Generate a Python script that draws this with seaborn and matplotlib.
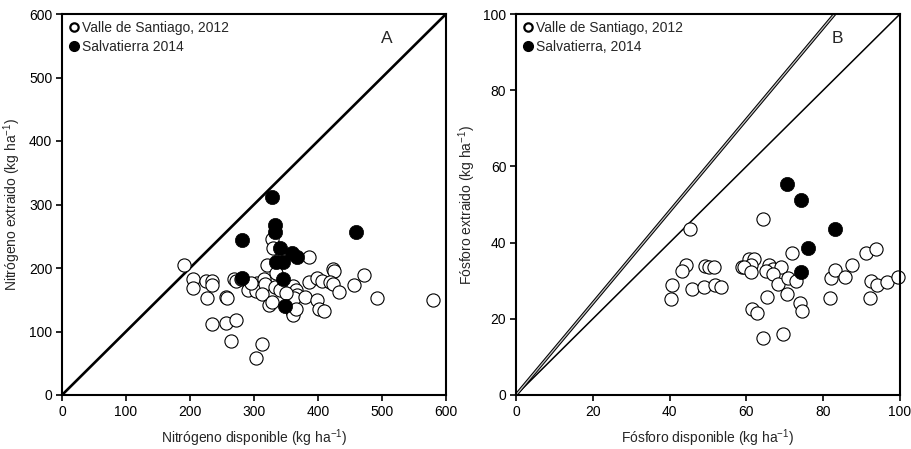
import matplotlib
matplotlib.use("Agg")
import matplotlib.pyplot as plt
import seaborn as sns
import pandas as pd
from matplotlib.lines import Line2D

# ---- data: panel A (nitrogen) ----
n_valle_x = [190, 204, 204, 225, 234, 235, 227, 256, 258, 234, 257, 272, 264, 268, 272,
             290, 305, 303, 312, 303, 315, 317, 313, 321, 328, 329, 324, 328, 333, 334,
             361, 366, 367, 363, 380, 359, 361, 366, 386, 386, 398, 406, 398, 402, 409,
             423, 425, 419, 424, 433, 456, 472, 492, 580, 280, 296, 340, 350]
n_valle_y = [205, 183, 168, 179, 179, 173, 152, 154, 152, 112, 114, 118, 85, 183, 180,
             165, 177, 163, 80, 58, 183, 175, 159, 204, 246, 232, 142, 146, 170, 192,
             172, 165, 158, 152, 154, 133, 126, 136, 218, 178, 184, 180, 149, 136, 133,
             199, 196, 178, 175, 162, 173, 189, 152, 149, 182, 176, 165, 160]
n_salv_x = [328, 333, 333, 282, 341, 359, 367, 335, 346, 282, 345, 348, 459]
n_salv_y = [312, 267, 257, 244, 231, 224, 218, 210, 210, 185, 183, 140, 257]

# ---- data: panel B (phosphorus) ----
p_valle_x = [45.2, 44.4, 43.1, 40.7, 40.3, 45.9, 49.0, 51.8, 53.3, 49.2, 50.3, 51.6, 58.9,
             64.3, 60.7, 62.0, 61.1, 59.4, 61.1, 65.9, 66.8, 68.9, 65.0, 66.8, 68.3, 70.9,
             73.0, 71.8, 70.7, 65.4, 61.5, 62.8, 73.9, 74.4, 64.3, 69.5, 81.7, 82.0, 83.2,
             85.7, 87.4, 91.1, 93.7, 92.4, 94.1, 96.7, 99.4, 92.1]
p_valle_y = [43.7, 34.1, 32.6, 28.9, 25.3, 27.7, 28.3, 28.9, 28.3, 33.9, 33.7, 33.7, 33.5,
             46.3, 35.7, 35.7, 34.1, 33.7, 32.2, 34.1, 33.2, 33.5, 32.6, 31.8, 29.2, 30.6,
             30.0, 37.2, 26.6, 25.7, 22.5, 21.4, 24.2, 22.0, 15.0, 16.1, 25.4, 30.6, 32.8,
             30.9, 34.1, 37.2, 38.4, 30.0, 28.9, 29.6, 30.9, 25.4]
p_salv_x = [70.5, 74.1, 83.1, 76.0, 74.1]
p_salv_y = [55.5, 51.3, 43.5, 38.7, 32.2]

legend_a = ["Valle de Santiago, 2012", "Salvatierra 2014"]
legend_b = ["Valle de Santiago, 2012", "Salvatierra, 2014"]

sns.set_style("ticks")
plt.rcParams["font.family"] = ["Liberation Sans", "DejaVu Sans"]
plt.rcParams["mathtext.default"] = "regular"

fig = plt.figure(figsize=(9.12, 4.49), dpi=100)
W, H = 912, 449
axA = fig.add_axes([62 / W, 54 / H, 384 / W, 381 / H])
axB = fig.add_axes([516 / W, 54 / H, 384 / W, 381 / H])

def draw(ax, vx, vy, sx, sy):
    dv = pd.DataFrame({"x": vx, "y": vy})
    ds = pd.DataFrame({"x": sx, "y": sy})
    sns.scatterplot(data=dv, x="x", y="y", ax=ax, s=90, marker="o",
                    facecolor="white", edgecolor="black", linewidth=0.8, zorder=3,
                    clip_on=False)
    sns.scatterplot(data=ds, x="x", y="y", ax=ax, s=105, marker="o",
                    color="black", edgecolor="black", linewidth=0.5, zorder=4,
                    clip_on=False)

draw(axA, n_valle_x, n_valle_y, n_salv_x, n_salv_y)
draw(axB, p_valle_x, p_valle_y, p_salv_x, p_salv_y)

# reference lines
axA.plot([0, 600], [0, 600], color="black", lw=1.9, zorder=2)
axB.plot([0, 100], [0, 100], color="black", lw=1.1, zorder=2)
axB.plot([0, 100 / 1.205], [0, 100], color="black", lw=2.4, zorder=2,
         solid_capstyle="butt")
axB.plot([0, 100 / 1.205], [0, 100], color="#c4c4c4", lw=0.9, zorder=2,
         solid_capstyle="butt")

axA.set_xlim(0, 600); axA.set_ylim(0, 600)
axA.set_xticks(range(0, 601, 100)); axA.set_yticks(range(0, 601, 100))
axB.set_xlim(0, 100); axB.set_ylim(0, 100)
axB.set_xticks(range(0, 101, 20)); axB.set_yticks(range(0, 101, 20))

axA.set_xlabel("Nitrógeno disponible (kg ha$^{-1}$)", fontsize=10, labelpad=6)
axA.set_ylabel("Nitrógeno extraido (kg ha$^{-1}$)", fontsize=10, labelpad=4)
axB.set_xlabel("Fósforo disponible (kg ha$^{-1}$)", fontsize=10, labelpad=6)
axB.set_ylabel("Fósforo extraido (kg ha$^{-1}$)", fontsize=10, labelpad=4)

for ax in (axA, axB):
    for sp in ax.spines.values():
        sp.set_visible(True)
        sp.set_linewidth(1.5)
        sp.set_color("black")
        sp.set_zorder(5)
    ax.tick_params(direction="out", length=4, width=1.2, labelsize=10,
                   colors="black", pad=3)

axA.text(508, 561, "A", fontsize=12.5, ha="center", va="center")
axB.text(83.6, 93.5, "B", fontsize=12.5, ha="center", va="center")

def add_legend(ax, labels, y0):
    h = [Line2D([], [], ls="none", marker="o", markersize=6, markerfacecolor="white",
                markeredgecolor="black", markeredgewidth=1.6),
         Line2D([], [], ls="none", marker="o", markersize=7, markerfacecolor="black",
                markeredgecolor="black")]
    ax.legend(h, labels, loc="upper left", bbox_to_anchor=(0.0, y0), frameon=False,
              fontsize=10, handlelength=0.8, handletextpad=0.15, labelspacing=0.35,
              borderaxespad=0.3, borderpad=0.2)

add_legend(axA, legend_a, 1.0)
add_legend(axB, legend_b, 1.0)

fig.savefig("out.png", dpi=100)
